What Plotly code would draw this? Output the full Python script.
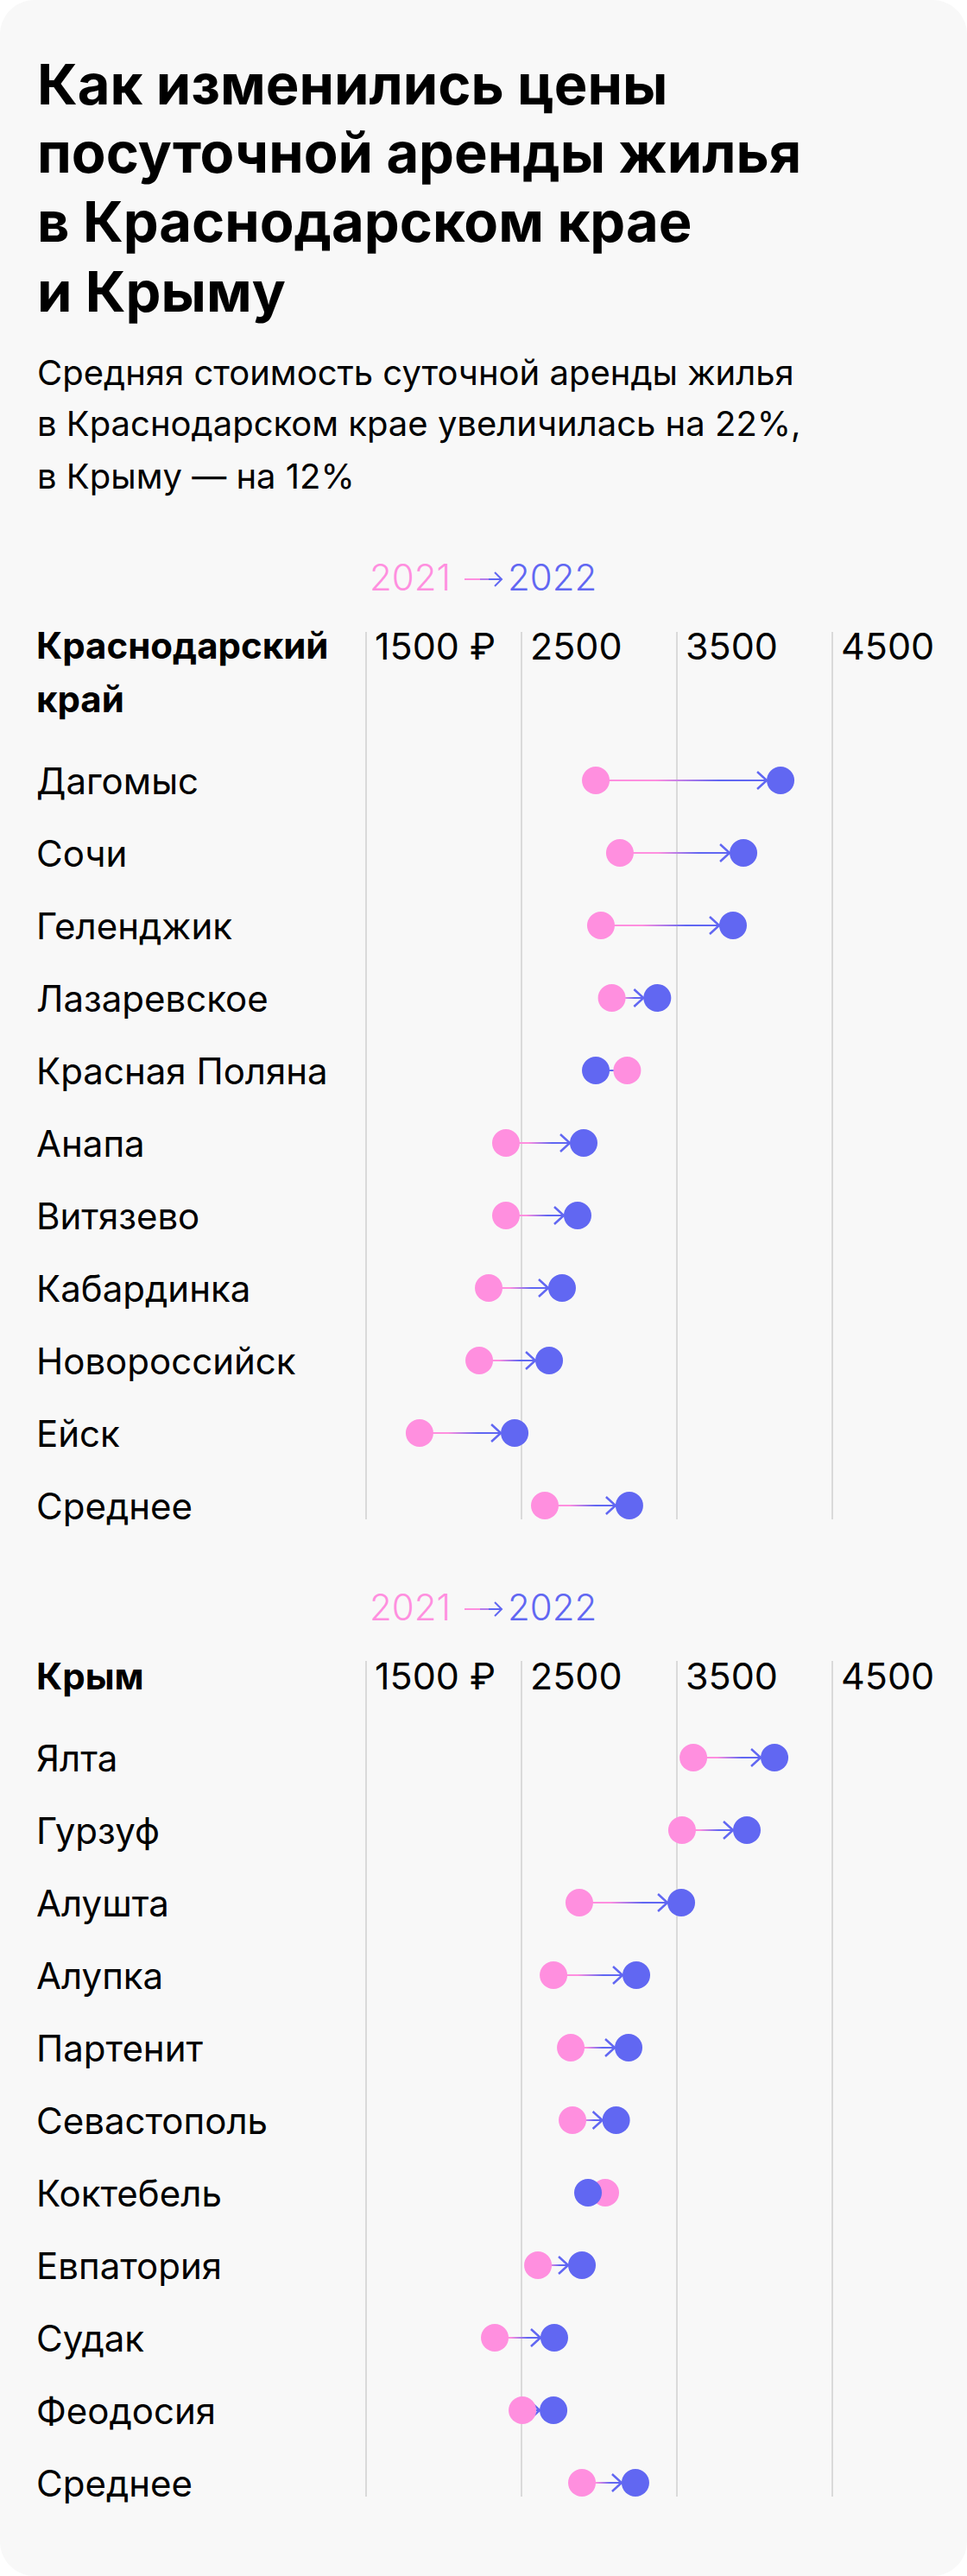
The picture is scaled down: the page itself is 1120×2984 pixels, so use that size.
import plotly.graph_objects as go

# ---------------- data ----------------
title_lines = ["Как изменились цены", "посуточной аренды жилья", "в Краснодарском крае", "и Крыму"]
subtitle_lines = ["Средняя стоимость суточной аренды жилья",
                  "в Краснодарском крае увеличилась на 22%,",
                  "в Крыму — на 12%"]
legend_from = "2021"
legend_to = "2022"
tick_vals = [1500, 2500, 3500, 4500]
tick_text = ["1500 ₽", "2500", "3500", "4500"]

krd_header = ["Краснодарский", "край"]
krd_cities = ["Дагомыс", "Сочи", "Геленджик", "Лазаревское", "Красная Поляна", "Анапа",
              "Витязево", "Кабардинка", "Новороссийск", "Ейск", "Среднее"]
krd_2021 = [2978, 3133, 3011, 3081, 3180, 2400, 2400, 2289, 2228, 1844, 2650]
krd_2022 = [4167, 3928, 3861, 3374, 2978, 2900, 2861, 2761, 2678, 2456, 3194]

crm_header = ["Крым"]
crm_cities = ["Ялта", "Гурзуф", "Алушта", "Алупка", "Партенит", "Севастополь", "Коктебель",
              "Евпатория", "Судак", "Феодосия", "Среднее"]
crm_2021 = [3606, 3533, 2872, 2706, 2817, 2828, 3039, 2606, 2328, 2506, 2889]
crm_2022 = [4128, 3950, 3528, 3239, 3189, 3109, 2928, 2889, 2711, 2706, 3233]

# ---------------- style / layout ----------------
W, H = 1120, 2984
PINK = "#FF8FDF"
BLUE = "#6167F2"
MID = "#B57CEB"
CARD = "#F8F8F8"
GRID = "#DADADA"
FONT = "Inter"
TXT = "#000000"

X_LEFT_PX = 400          # left edge of x-axis domain (px)
PX_PER_UNIT = 0.18       # pixels per rouble
X0 = 1500 - (424 - X_LEFT_PX) / PX_PER_UNIT
X1 = X0 + (W - X_LEFT_PX) / PX_PER_UNIT
U = 1 / PX_PER_UNIT      # data units per pixel
ROW = 84                 # px between rows
DOT = 32
LABEL_X = 40


def pxx(p):
    return p / W


def pxy(p):
    return 1 - p / H


sections = [
    dict(header=krd_header, cities=krd_cities, v0=krd_2021, v1=krd_2022,
         legend_y=668, header_y=[747, 809], tick_y=748, top=732, first=904, bottom=1760),
    dict(header=crm_header, cities=crm_cities, v0=crm_2021, v1=crm_2022,
         legend_y=1861, header_y=[1941], tick_y=1941, top=1924, first=2036, bottom=2892),
]

fig = go.Figure()
annotations = []
shapes = []

# card background
r = 40
k = 0.5523 * r
card_path = (
    f"M {pxx(r)},{pxy(0)} L {pxx(W - r)},{pxy(0)} "
    f"C {pxx(W - r + k)},{pxy(0)} {pxx(W)},{pxy(r - k)} {pxx(W)},{pxy(r)} "
    f"L {pxx(W)},{pxy(H - r)} "
    f"C {pxx(W)},{pxy(H - r + k)} {pxx(W - r + k)},{pxy(H)} {pxx(W - r)},{pxy(H)} "
    f"L {pxx(r)},{pxy(H)} "
    f"C {pxx(r - k)},{pxy(H)} {pxx(0)},{pxy(H - r + k)} {pxx(0)},{pxy(H - r)} "
    f"L {pxx(0)},{pxy(r)} "
    f"C {pxx(0)},{pxy(r - k)} {pxx(r - k)},{pxy(0)} {pxx(r)},{pxy(0)} Z"
)
shapes.append(dict(type="path", path=card_path, xref="paper", yref="paper",
                   fillcolor=CARD, line=dict(width=0), layer="below"))

# title & subtitle
title_y = [97, 177, 257, 337]
for t, yy in zip(title_lines, title_y):
    annotations.append(dict(text=f"<b>{t}</b>", x=pxx(41), y=pxy(yy), xref="paper", yref="paper",
                            xanchor="left", yanchor="middle", showarrow=False,
                            font=dict(family=FONT, size=65, color=TXT)))
sub_y = [431, 491, 551]
for t, yy in zip(subtitle_lines, sub_y):
    annotations.append(dict(text=t, x=pxx(41), y=pxy(yy), xref="paper", yref="paper",
                            xanchor="left", yanchor="middle", showarrow=False,
                            font=dict(family=FONT, size=40, color=TXT)))

layout_axes = {}
for si, sec in enumerate(sections):
    n = si + 1
    xname = "x" if n == 1 else f"x{n}"
    yname = "y" if n == 1 else f"y{n}"
    xkey = "xaxis" if n == 1 else f"xaxis{n}"
    ykey = "yaxis" if n == 1 else f"yaxis{n}"
    first, top, bottom = sec["first"], sec["top"], sec["bottom"]

    layout_axes[xkey] = dict(domain=[pxx(X_LEFT_PX), 1], range=[X0, X1], tickmode="array",
                             tickvals=tick_vals, showticklabels=False, showgrid=True,
                             gridcolor=GRID, gridwidth=1.5, zeroline=False, showline=False,
                             ticks="", fixedrange=True, anchor=yname)
    layout_axes[ykey] = dict(domain=[pxy(bottom), pxy(top)],
                             range=[(bottom - first) / ROW, (top - first) / ROW],
                             showgrid=False, zeroline=False, showticklabels=False, showline=False,
                             ticks="", fixedrange=True, anchor=xname)

    ys = list(range(len(sec["cities"])))
    h = 1.0 / ROW
    chev_x, chev_y = [], []
    for i, (a, b) in enumerate(zip(sec["v0"], sec["v1"])):
        if b >= a:
            end = b - (DOT / 2) * U
            cs = [[0, PINK], [0.35, PINK], [0.72, BLUE], [1, BLUE]]
            chev_x += [end - 11 * U, end, end - 11 * U, None]
            chev_y += [i - 10 / ROW, i, i + 10 / ROW, None]
        else:
            end = b + (DOT / 2) * U
            cs = [[0, BLUE], [0.28, BLUE], [0.65, PINK], [1, PINK]]
        fig.add_trace(go.Scatter(
            x=[a, end, end, a, a], y=[i - h, i - h, i + h, i + h, i - h],
            mode="none", fill="toself",
            fillgradient=dict(type="horizontal", colorscale=cs),
            hoverinfo="skip", xaxis=xname, yaxis=yname, showlegend=False))
    fig.add_trace(go.Scatter(x=chev_x, y=chev_y, mode="lines",
                             line=dict(color=BLUE, width=2.5), hoverinfo="skip",
                             xaxis=xname, yaxis=yname, showlegend=False))
    fig.add_trace(go.Scatter(x=sec["v0"], y=ys, mode="markers",
                             marker=dict(size=DOT, color=PINK, line=dict(width=0)),
                             name=legend_from, xaxis=xname, yaxis=yname, showlegend=False,
                             cliponaxis=False))
    fig.add_trace(go.Scatter(x=sec["v1"], y=ys, mode="markers",
                             marker=dict(size=DOT, color=BLUE, line=dict(width=0)),
                             name=legend_to, xaxis=xname, yaxis=yname, showlegend=False,
                             cliponaxis=False))

    # legend 2021 -> 2022
    ly = sec["legend_y"]
    annotations.append(dict(text=legend_from, x=pxx(524), y=pxy(ly), xref="paper", yref="paper",
                            xanchor="right", yanchor="middle", showarrow=False,
                            font=dict(family=FONT, size=42, color=PINK, weight=300)))
    annotations.append(dict(text=legend_to, x=pxx(586), y=pxy(ly), xref="paper", yref="paper",
                            xanchor="left", yanchor="middle", showarrow=False,
                            font=dict(family=FONT, size=42, color=BLUE, weight=300)))
    ay = ly + 3
    for (p0, p1, c) in [(538, 556, PINK), (556, 566, MID), (566, 581, BLUE)]:
        shapes.append(dict(type="line", xref="paper", yref="paper", x0=pxx(p0), x1=pxx(p1),
                           y0=pxy(ay), y1=pxy(ay), line=dict(color=c, width=2)))
    shapes.append(dict(type="path", xref="paper", yref="paper",
                       path=f"M {pxx(573)},{pxy(ay - 8)} L {pxx(581)},{pxy(ay)} L {pxx(573)},{pxy(ay + 8)}",
                       line=dict(color=BLUE, width=2)))

    # header
    for t, yy in zip(sec["header"], sec["header_y"]):
        annotations.append(dict(text=f"<b>{t}</b>", x=pxx(LABEL_X), y=pxy(yy), xref="paper",
                                yref="paper", xanchor="left", yanchor="middle", showarrow=False,
                                font=dict(family=FONT, size=42, color=TXT)))
    # tick labels
    for tv, tt in zip(tick_vals, tick_text):
        annotations.append(dict(text=tt, x=tv, xref=xname, y=pxy(sec["tick_y"]), yref="paper",
                                xanchor="left", yanchor="middle", xshift=8, showarrow=False,
                                font=dict(family=FONT, size=43, color=TXT)))
    # row labels
    for i, c in enumerate(sec["cities"]):
        annotations.append(dict(text=c, x=pxx(LABEL_X), xref="paper", y=i, yref=yname,
                                xanchor="left", yanchor="middle", showarrow=False,
                                font=dict(family=FONT, size=42, color=TXT)))

fig.update_layout(
    width=W, height=H, autosize=False,
    margin=dict(l=0, r=0, t=0, b=0, pad=0),
    paper_bgcolor="#FFFFFF", plot_bgcolor="rgba(0,0,0,0)",
    showlegend=False, hovermode=False,
    annotations=annotations, shapes=shapes,
    **layout_axes,
)

fig.write_html("out.html")
